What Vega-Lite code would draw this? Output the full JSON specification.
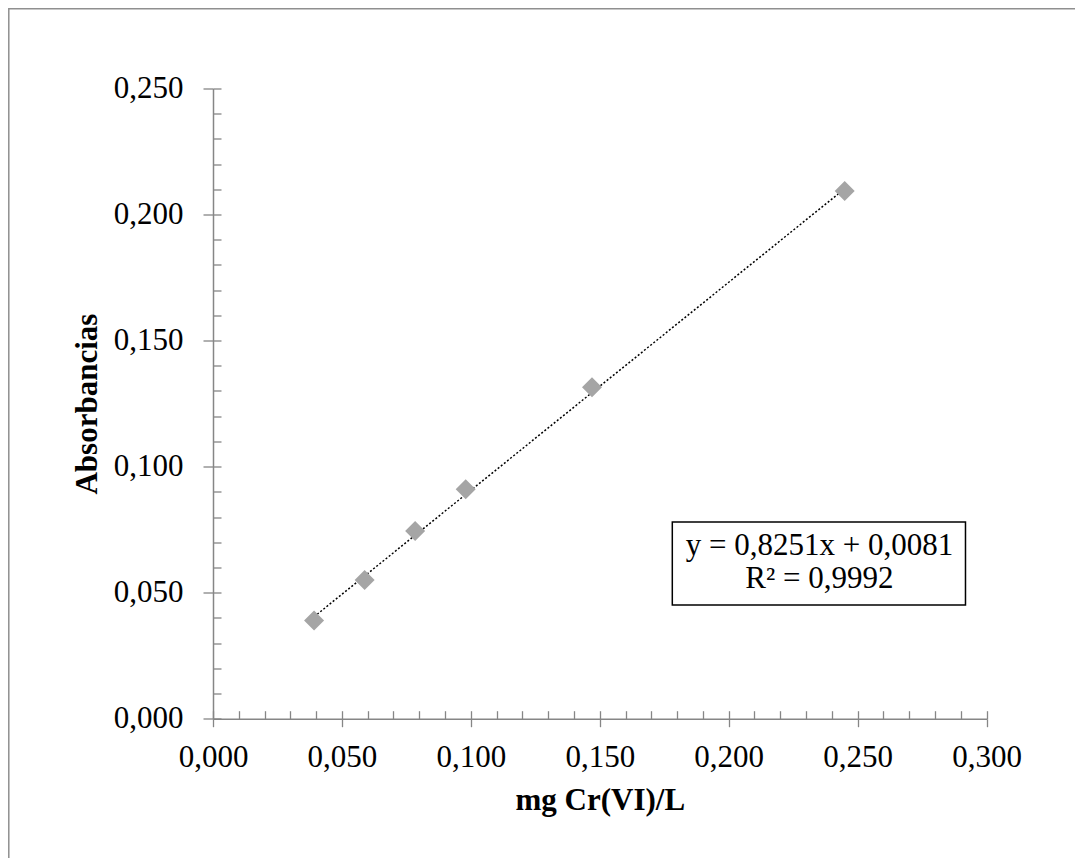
{
  "$schema": "https://vega.github.io/schema/vega-lite/v6.json",
  "width": 773.5,
  "height": 630.2,
  "autosize": {"type": "none"},
  "padding": {"left": 213, "top": 88.5, "right": 88.5, "bottom": 139.3},
  "background": "white",
  "config": {"view": {"stroke": null}, "font": "Liberation Serif"},
  "datasets": {
    "points": [
      {"conc": 0.0392, "abs": 0.039},
      {"conc": 0.0588, "abs": 0.055},
      {"conc": 0.0784, "abs": 0.0745},
      {"conc": 0.098, "abs": 0.091},
      {"conc": 0.147, "abs": 0.1315},
      {"conc": 0.245, "abs": 0.2093}
    ],
    "trend": [
      {"conc": 0.0392, "abs": 0.04044},
      {"conc": 0.245, "abs": 0.21025}
    ],
    "one": [{"id": 1}]
  },
  "layer": [
    {
      "data": {"name": "one"},
      "mark": {"type": "rect", "fill": null, "stroke": "#8f8f8f", "strokeWidth": 1.5, "clip": false},
      "encoding": {
        "x": {"datum": -0.0792, "type": "quantitative", "scale": {"domain": [0, 0.3], "nice": false}, "axis": null},
        "x2": {"datum": 0.345},
        "y": {"datum": 0.2816, "type": "quantitative", "scale": {"domain": [0, 0.25], "nice": false}, "axis": null},
        "y2": {"datum": -0.07}
      }
    },
    {
      "data": {"name": "trend"},
      "mark": {"type": "line", "color": "black", "strokeWidth": 1.5, "strokeDash": [2, 2]},
      "encoding": {
        "x": {
          "field": "conc", "type": "quantitative",
          "scale": {"domain": [0, 0.3], "nice": false},
          "axis": {
            "orient": "bottom", "title": null, "labels": false, "domain": false,
            "tickSize": -8, "tickColor": "#868686", "tickWidth": 1.3,
            "values": [0,0.01,0.02,0.03,0.04,0.05,0.06,0.07,0.08,0.09,0.1,0.11,0.12,0.13,0.14,0.15,0.16,0.17,0.18,0.19,0.2,0.21,0.22,0.23,0.24,0.25,0.26,0.27,0.28,0.29,0.3],
            "grid": false
          }
        },
        "y": {
          "field": "abs", "type": "quantitative",
          "scale": {"domain": [0, 0.25], "nice": false},
          "axis": {
            "orient": "left", "title": null, "labels": false, "domain": false,
            "tickSize": -8, "tickColor": "#868686", "tickWidth": 1.3,
            "values": [0,0.01,0.02,0.03,0.04,0.05,0.06,0.07,0.08,0.09,0.1,0.11,0.12,0.13,0.14,0.15,0.16,0.17,0.18,0.19,0.2,0.21,0.22,0.23,0.24,0.25],
            "grid": false
          }
        }
      }
    },
    {
      "data": {"name": "points"},
      "mark": {"type": "point", "shape": "diamond", "filled": true, "color": "#a5a5a5", "opacity": 1, "size": 400},
      "encoding": {
        "x": {
          "field": "conc", "type": "quantitative",
          "scale": {"domain": [0, 0.3], "nice": false},
          "axis": {
            "orient": "bottom", "title": "mg Cr(VI)/L",
            "titleFont": "Liberation Serif", "titleFontSize": 31, "titleFontWeight": "bold", "titleColor": "black", "titlePadding": 13,
            "labelFont": "Liberation Serif", "labelFontSize": 31, "labelColor": "black", "labelPadding": 16,
            "labelExpr": "replace(format(datum.value, '.3f'), '.', ',')",
            "values": [0, 0.05, 0.1, 0.15, 0.2, 0.25, 0.3],
            "tickSize": 8, "tickColor": "#868686", "tickWidth": 1.3,
            "domainColor": "#868686", "domainWidth": 1.5, "grid": false, "labelFlush": false, "labelOverlap": false
          }
        },
        "y": {
          "field": "abs", "type": "quantitative",
          "scale": {"domain": [0, 0.25], "nice": false},
          "axis": {
            "orient": "left", "title": "Absorbancias",
            "titleFont": "Liberation Serif", "titleFontSize": 31, "titleFontWeight": "bold", "titleColor": "black", "titlePadding": 10,
            "labelFont": "Liberation Serif", "labelFontSize": 31, "labelColor": "black", "labelPadding": 20,
            "labelExpr": "replace(format(datum.value, '.3f'), '.', ',')",
            "values": [0, 0.05, 0.1, 0.15, 0.2, 0.25],
            "tickSize": 10, "tickColor": "#868686", "tickWidth": 1.3,
            "domainColor": "#868686", "domainWidth": 1.5, "grid": false, "labelFlush": false, "labelOverlap": false
          }
        }
      }
    },
    {
      "data": {"name": "one"},
      "mark": {"type": "rect", "fill": "white", "stroke": "black", "strokeWidth": 1.5},
      "encoding": {
        "x": {"datum": 0.17814, "type": "quantitative", "axis": null},
        "x2": {"datum": 0.29185},
        "y": {"datum": 0.07803, "type": "quantitative", "axis": null},
        "y2": {"datum": 0.0451}
      }
    },
    {
      "data": {"name": "one"},
      "mark": {"type": "text", "font": "Liberation Serif", "fontSize": 31, "color": "black", "align": "center", "baseline": "alphabetic"},
      "encoding": {
        "x": {"datum": 0.2352, "type": "quantitative", "axis": null},
        "y": {"datum": 0.06494, "type": "quantitative", "axis": null},
        "text": {"value": "y = 0,8251x + 0,0081"}
      }
    },
    {
      "data": {"name": "one"},
      "mark": {"type": "text", "font": "Liberation Serif", "fontSize": 31, "color": "black", "align": "center", "baseline": "alphabetic"},
      "encoding": {
        "x": {"datum": 0.2352, "type": "quantitative", "axis": null},
        "y": {"datum": 0.05185, "type": "quantitative", "axis": null},
        "text": {"value": "R² = 0,9992"}
      }
    }
  ],
  "resolve": {"axis": {"x": "independent", "y": "independent"}}
}
